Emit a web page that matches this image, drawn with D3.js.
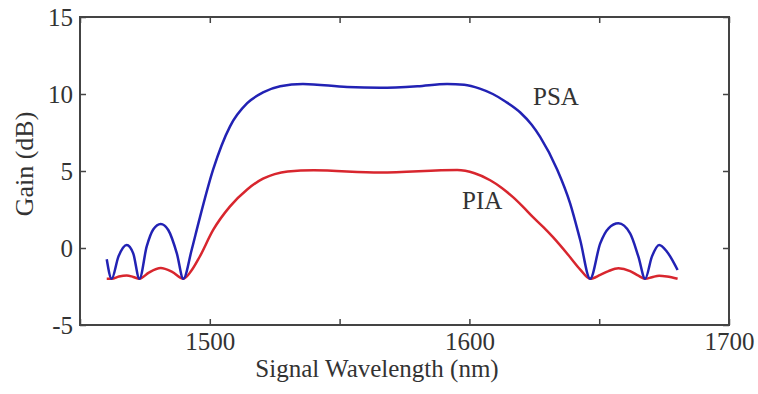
<!DOCTYPE html>
<html>
<head>
<meta charset="utf-8">
<script src="https://cdn.jsdelivr.net/npm/d3@7"></script>
<style>
  body { margin: 0; background: #fff; }
  text { font-family: "Liberation Serif", "Times New Roman", serif; fill: #333; }
</style>
</head>
<body>
<div id="chart"></div>
<script>
// data
var psaWavelength = [1460.3, 1462.2, 1464.8, 1468.0, 1470.5, 1472.9, 1475.7, 1478.2, 1481.1, 1484.0,
  1487.3, 1489.8, 1493.0, 1495.6, 1501.3, 1507.8, 1514.4, 1520.5, 1527.1, 1535.9, 1552.9, 1565.6,
  1580.0, 1591.4, 1598.0, 1604.0, 1609.0, 1614.0, 1619.6, 1624.0, 1627.3, 1633.8, 1638.8, 1642.7,
  1646.5, 1650.4, 1653.6, 1657.4, 1661.9, 1665.1, 1667.7, 1670.3, 1673.1, 1676.1, 1680.2];
var psaGain = [-0.73, -2.0, -0.56, 0.2, -0.35, -2.0, 0.1, 1.2, 1.56, 1.17,
  -0.35, -2.0, -0.13, 1.6, 5.1, 7.9, 9.4, 10.1, 10.5, 10.65, 10.45, 10.4,
  10.5, 10.65, 10.6, 10.35, 10.0, 9.5, 8.8, 8.0, 7.2, 5.1, 2.9, 0.5,
  -2.0, 0.3, 1.28, 1.6, 0.95, -0.56, -2.0, -0.56, 0.2, -0.24, -1.43];

var piaWavelength = [1460.3, 1462.2, 1465.0, 1468.0, 1470.5, 1472.9, 1476.5, 1481.1, 1485.5, 1489.8,
  1492.8, 1496.0, 1501.3, 1507.8, 1514.4, 1520.5, 1525.0, 1530.0, 1540.0, 1565.6, 1595.3, 1602.0,
  1608.0, 1612.5, 1616.8, 1620.5, 1624.5, 1628.5, 1632.2, 1638.8, 1642.7, 1646.5, 1650.4, 1653.6,
  1657.4, 1661.9, 1665.1, 1667.7, 1670.3, 1673.1, 1676.1, 1680.2];
var piaGain = [-2.0, -2.0, -1.85, -1.78, -1.88, -2.0, -1.6, -1.3, -1.55, -2.0,
  -1.5, -0.6, 1.17, 2.7, 3.8, 4.5, 4.8, 4.97, 5.05, 4.9, 5.06, 4.85,
  4.4, 3.9, 3.3, 2.7, 2.0, 1.35, 0.7, -0.6, -1.4, -2.0, -1.75, -1.5,
  -1.32, -1.5, -1.8, -2.0, -1.9, -1.8, -1.85, -2.0];

var xTicks = [1450, 1500, 1550, 1600, 1650, 1700];
var xTickLabels = [1500, 1600, 1700];
var yTicks = [-5, 0, 5, 10, 15];

var margin = {top: 17, right: 29, bottom: 69, left: 80},
    width = 758 - margin.left - margin.right,
    height = 394 - margin.top - margin.bottom;

var svg = d3.select("#chart")
  .append("svg")
    .attr("width", 758)
    .attr("height", 394)
  .append("g")
    .attr("transform", "translate(" + margin.left + "," + margin.top + ")");

var x = d3.scaleLinear().domain([1450, 1700]).range([0, width]);
var y = d3.scaleLinear().domain([-5, 15]).range([height, 0]);

// axes, ticks pointing inward
svg.append("g")
  .attr("transform", "translate(0," + height + ")")
  .call(d3.axisBottom(x).tickValues(xTicks).tickSize(-6).tickPadding(7)
    .tickFormat(function (d) { return xTickLabels.indexOf(d) >= 0 ? String(d) : ""; }));
svg.append("g")
  .call(d3.axisTop(x).tickValues(xTicks).tickSize(-6).tickFormat(""));
svg.append("g")
  .call(d3.axisLeft(y).tickValues(yTicks).tickSize(-6).tickPadding(7)
    .tickFormat(function (d) { return String(d); }));
svg.append("g")
  .attr("transform", "translate(" + width + ",0)")
  .call(d3.axisRight(y).tickValues(yTicks).tickSize(-6).tickFormat(""));

svg.selectAll(".domain").remove();
svg.selectAll(".tick line").attr("stroke", "#444").attr("stroke-width", 1.5);
svg.selectAll(".tick text")
  .style("font-family", "Liberation Serif, serif")
  .style("font-size", "25px")
  .attr("fill", "#333");

// frame
svg.append("rect")
  .attr("x", 0).attr("y", 0)
  .attr("width", width).attr("height", height)
  .attr("fill", "none")
  .attr("stroke", "#444")
  .attr("stroke-width", 2);

var line = d3.line()
  .x(function (d) { return x(d[0]); })
  .y(function (d) { return y(d[1]); })
  .curve(d3.curveMonotoneX);

svg.append("path")
  .datum(d3.zip(piaWavelength, piaGain))
  .attr("fill", "none")
  .attr("stroke", "#d8262e")
  .attr("stroke-width", 2.5)
  .attr("d", line);

svg.append("path")
  .datum(d3.zip(psaWavelength, psaGain))
  .attr("fill", "none")
  .attr("stroke", "#2222b4")
  .attr("stroke-width", 2.5)
  .attr("d", line);

// curve labels
svg.append("text")
  .attr("x", 533 - margin.left).attr("y", 105 - margin.top)
  .style("font-size", "25px")
  .text("PSA");
svg.append("text")
  .attr("x", 462 - margin.left).attr("y", 209 - margin.top)
  .style("font-size", "25px")
  .text("PIA");

// axis titles
svg.append("text")
  .attr("x", 377 - margin.left).attr("y", 377 - margin.top)
  .attr("text-anchor", "middle")
  .style("font-size", "25px")
  .text("Signal Wavelength (nm)");
svg.append("text")
  .attr("transform", "translate(" + (33 - margin.left) + "," + (164 - margin.top) + ") rotate(-90)")
  .attr("text-anchor", "middle")
  .style("font-size", "26px")
  .text("Gain (dB)");
</script>
</body>
</html>
